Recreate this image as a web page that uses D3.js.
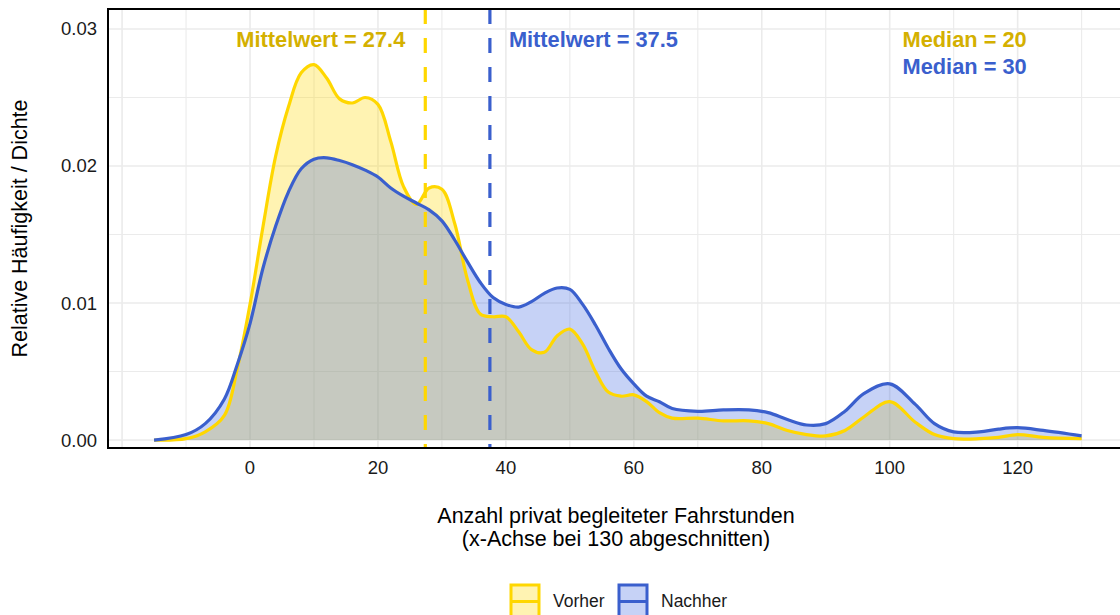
<!DOCTYPE html>
<html>
<head>
<meta charset="utf-8">
<script src="https://cdn.jsdelivr.net/npm/d3@7"></script>
<style>
  html, body { margin: 0; padding: 0; background: #fff; }
  svg { display: block; font-family: "Liberation Sans", Arial, sans-serif; }
</style>
</head>
<body>
<div id="chart"></div>
<script>
// density estimates (x = hours, y = density)
const gridX = [-15, -10, -7, -4, -2, 0, 2, 4, 6, 8, 10, 12, 14, 16, 18, 20, 22, 24, 26, 28, 30, 32, 34, 36, 38, 40,
  42, 44, 46, 48, 50, 52, 54, 56, 58, 60, 62, 64, 66, 70, 74, 78, 81, 84, 87, 90, 93, 96, 100, 104, 107, 110, 114, 117, 120, 124, 130];
const vorherY = [0.0000, 0.0001, 0.0006, 0.0018, 0.0052, 0.0099, 0.0155, 0.0207, 0.0243, 0.0268, 0.0274, 0.0264, 0.0249, 0.0246,
  0.0250, 0.0245, 0.0218, 0.0185, 0.0172, 0.0184, 0.0183, 0.0158, 0.0117, 0.0092, 0.0090, 0.0090, 0.0079, 0.0066, 0.0064,
  0.0076, 0.0081, 0.0070, 0.0050, 0.0035, 0.0032, 0.0033, 0.0028, 0.0020, 0.0016, 0.0016, 0.0014, 0.0014, 0.0012, 0.0007,
  0.0004, 0.0003, 0.0007, 0.0017, 0.0028, 0.0013, 0.0004, 0.0001, 0.0001, 0.0002, 0.0004, 0.0002, 0.0001];
const nachherY = [0.0000, 0.0004, 0.0012, 0.0030, 0.0055, 0.0085, 0.0125, 0.0156, 0.0181, 0.0198, 0.0205, 0.0206, 0.0204, 0.0201,
  0.0197, 0.0192, 0.0184, 0.0178, 0.0173, 0.0168, 0.0160, 0.0146, 0.0130, 0.0115, 0.0104, 0.0099, 0.0097, 0.0101, 0.0107,
  0.0111, 0.0110, 0.0099, 0.0084, 0.0067, 0.0052, 0.0041, 0.0032, 0.0028, 0.0023, 0.0021, 0.0022, 0.0022, 0.0020, 0.0015,
  0.0011, 0.0012, 0.0021, 0.0034, 0.0041, 0.0026, 0.0012, 0.0006, 0.0006, 0.0008, 0.0009, 0.0007, 0.0003];

const groups = ["Vorher", "Nachher"];
const means = [27.4, 37.5];
const medians = [20, 30];
const xTicks = [0, 20, 40, 60, 80, 100, 120];
const yTicks = [0, 0.01, 0.02, 0.03];

const W = 1120, H = 615;
const lineCol = { Vorher: "#FFD700", Nachher: "#3A5FCD" };
const textCol = { Vorher: "#D4B000", Nachher: "#3A5FCD" };
const fillCol = { Vorher: "rgba(255,215,0,0.3)", Nachher: "rgba(65,105,225,0.3)" };

const svg = d3.select("#chart").append("svg").attr("width", W).attr("height", H);

const x = d3.scaleLinear().domain([-22.2, 136]).range([108, 1120]);
const y = d3.scaleLinear().domain([-0.00058, 0.03146]).range([448, 9]);

// grid
const grid = svg.append("g").attr("fill", "none");
d3.range(-20, 131, 10).forEach(v => {
  grid.append("line").attr("x1", x(v)).attr("x2", x(v)).attr("y1", 9).attr("y2", 448)
    .attr("stroke", "#EBEBEB").attr("stroke-width", v % 20 === 0 ? 1.6 : 1.1);
});
d3.range(0, 0.0301, 0.005).forEach((v, i) => {
  grid.append("line").attr("x1", 108).attr("x2", 1120).attr("y1", y(v)).attr("y2", y(v))
    .attr("stroke", "#EBEBEB").attr("stroke-width", i % 2 === 0 ? 1.6 : 1.1);
});

const series = {
  Vorher: gridX.map((d, i) => [d, vorherY[i]]),
  Nachher: gridX.map((d, i) => [d, nachherY[i]])
};

const curve = d3.curveCatmullRom.alpha(0.5);
const area = d3.area().x(d => x(d[0])).y0(y(0)).y1(d => y(d[1])).curve(curve);
const line = d3.line().x(d => x(d[0])).y(d => y(d[1])).curve(curve);

groups.forEach(g => {
  svg.append("path").datum(series[g]).attr("d", area).attr("fill", fillCol[g]);
});
groups.forEach(g => {
  svg.append("path").datum(series[g]).attr("d", line).attr("fill", "none")
    .attr("stroke", lineCol[g]).attr("stroke-width", 3.2).attr("stroke-linejoin", "round");
});

// mean lines
groups.forEach((g, i) => {
  svg.append("line").attr("x1", x(means[i])).attr("x2", x(means[i])).attr("y1", 9).attr("y2", 448)
    .attr("stroke", lineCol[g]).attr("stroke-width", 3.2).attr("stroke-dasharray", "15,14");
});

// annotations
svg.append("text").attr("x", x(means[0]) - 20).attr("y", 46.5).attr("text-anchor", "end")
  .attr("font-size", 21.8).attr("font-weight", "bold").attr("fill", textCol.Vorher)
  .text(`Mittelwert = ${means[0]}`);
svg.append("text").attr("x", x(means[1]) + 19).attr("y", 46.5)
  .attr("font-size", 21.8).attr("font-weight", "bold").attr("fill", textCol.Nachher)
  .text(`Mittelwert = ${means[1]}`);
groups.forEach((g, i) => {
  svg.append("text").attr("x", x(102)).attr("y", 46.5 + i * 27.5)
    .attr("font-size", 21.8).attr("font-weight", "bold").attr("fill", textCol[g])
    .text(`Median = ${medians[i]}`);
});

// panel border
svg.append("rect").attr("x", 108).attr("y", 9).attr("width", 1016).attr("height", 439)
  .attr("fill", "none").attr("stroke", "#000").attr("stroke-width", 2);

// tick labels
svg.append("g").selectAll("text").data(xTicks).join("text")
  .attr("x", d => x(d)).attr("y", 474).attr("text-anchor", "middle")
  .attr("font-size", 18.5).attr("fill", "#1a1a1a").text(d => d);
svg.append("g").selectAll("text").data(yTicks).join("text")
  .attr("x", 97).attr("y", d => y(d)).attr("dy", "0.35em").attr("text-anchor", "end")
  .attr("font-size", 18.5).attr("fill", "#1a1a1a").text(d => d3.format(".2f")(d));

// axis titles
svg.append("text").attr("transform", "translate(27,228.5) rotate(-90)").attr("text-anchor", "middle")
  .attr("font-size", 21.5).attr("fill", "#000").text("Relative Häufigkeit / Dichte");
const xt = svg.append("text").attr("text-anchor", "middle").attr("font-size", 21.5).attr("fill", "#000");
xt.append("tspan").attr("x", 616).attr("y", 523).text("Anzahl privat begleiteter Fahrstunden");
xt.append("tspan").attr("x", 616).attr("y", 546).text("(x-Achse bei 130 abgeschnitten)");

// legend
const legX = [511, 619];
groups.forEach((g, i) => {
  const lg = svg.append("g").attr("transform", `translate(${legX[i]},585)`);
  lg.append("rect").attr("width", 28).attr("height", 33).attr("fill", fillCol[g])
    .attr("stroke", lineCol[g]).attr("stroke-width", 3);
  lg.append("line").attr("x1", 0).attr("x2", 28).attr("y1", 16.5).attr("y2", 16.5)
    .attr("stroke", lineCol[g]).attr("stroke-width", 3);
  lg.append("text").attr("x", 42).attr("y", 21.7).attr("font-size", 17.5).attr("fill", "#1a1a1a").text(g);
});
</script>
</body>
</html>
